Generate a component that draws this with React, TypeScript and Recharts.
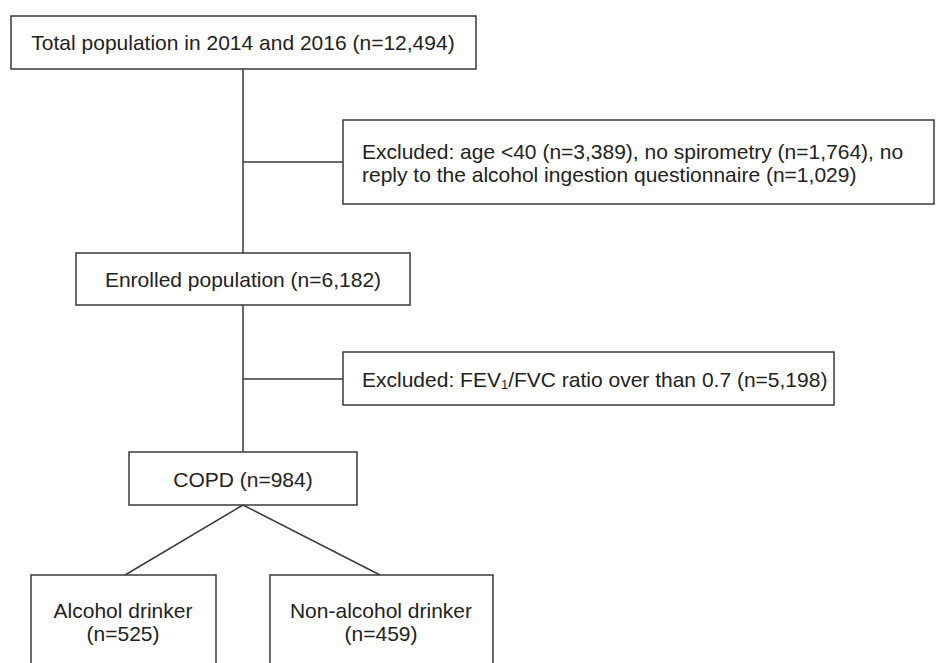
import React from "react";
import {
  ScatterChart,
  Scatter,
  XAxis,
  YAxis,
  ReferenceArea,
  ReferenceLine,
} from "recharts";

// counts shown in the flow diagram
const totalN = 12494;
const excludedAge = 3389;
const excludedSpiro = 1764;
const excludedReply = 1029;
const enrolledN = 6182;
const excludedRatio = 5198;
const copdN = 984;
const drinkerN = 525;
const nonDrinkerN = 459;

const fmt = (n: number) => n.toLocaleString("en-US");

// box layout in diagram units (same units as the axes)
const boxes = [
  { id: "total", x1: 11, x2: 476, y1: 16, y2: 69 },
  { id: "excl1", x1: 343, x2: 934, y1: 120, y2: 204 },
  { id: "enrolled", x1: 76, x2: 410, y1: 253, y2: 305 },
  { id: "excl2", x1: 343, x2: 834, y1: 352, y2: 405 },
  { id: "copd", x1: 129, x2: 357, y1: 452, y2: 505 },
  { id: "drinker", x1: 31, x2: 216, y1: 575, y2: 690 },
  { id: "nondrinker", x1: 270, x2: 493, y1: 575, y2: 690 },
];

const links = [
  [{ x: 243, y: 69 }, { x: 243, y: 253 }],
  [{ x: 243, y: 305 }, { x: 243, y: 452 }],
  [{ x: 243, y: 162 }, { x: 343, y: 162 }],
  [{ x: 243, y: 379 }, { x: 343, y: 379 }],
  [{ x: 243, y: 505 }, { x: 125, y: 575 }],
  [{ x: 243, y: 505 }, { x: 380, y: 575 }],
];

type Line = (string | { sub: string })[];

const labels: { x: number; y: number; anchor: string; lines: Line[] }[] = [
  { x: 243, y: 42, anchor: "middle", lines: [[`Total population in 2014 and 2016 (n=${fmt(totalN)})`]] },
  {
    x: 362,
    y: 162,
    anchor: "start",
    lines: [
      [`Excluded: age <40 (n=${fmt(excludedAge)}), no spirometry (n=${fmt(excludedSpiro)}), no`],
      [`reply to the alcohol ingestion questionnaire (n=${fmt(excludedReply)})`],
    ],
  },
  { x: 243, y: 279, anchor: "middle", lines: [[`Enrolled population (n=${fmt(enrolledN)})`]] },
  {
    x: 362,
    y: 379,
    anchor: "start",
    lines: [["Excluded: FEV", { sub: "1" }, `/FVC ratio over than 0.7 (n=${fmt(excludedRatio)})`]],
  },
  { x: 243, y: 479, anchor: "middle", lines: [[`COPD (n=${fmt(copdN)})`]] },
  { x: 123, y: 621, anchor: "middle", lines: [["Alcohol drinker"], [`(n=${drinkerN})`]] },
  { x: 381, y: 621, anchor: "middle", lines: [["Non-alcohol drinker"], [`(n=${nonDrinkerN})`]] },
];

const STROKE = "#3a3a3a";
const LINE_H = 23;
const SUB_SHIFT = 5;

const LabelShape = (props: any) => {
  const { cx, cy, payload } = props;
  const lines: Line[] = payload.lines;
  const top = cy - ((lines.length - 1) * LINE_H) / 2;
  return (
    <text
      x={cx}
      y={top}
      textAnchor={payload.anchor}
      dominantBaseline="central"
      fontFamily="'Liberation Sans', Arial, sans-serif"
      fontSize={21}
      fill="#222"
    >
      {lines.map((line, i) => (
        <tspan key={i} x={cx} y={top + i * LINE_H}>
          {line.map((part, j) => {
            if (typeof part !== "string") {
              return (
                <tspan key={j} fontSize={13} dy={SUB_SHIFT}>
                  {part.sub}
                </tspan>
              );
            }
            const prevSub = j > 0 && typeof line[j - 1] !== "string";
            return (
              <tspan key={j} dy={prevSub ? -SUB_SHIFT : undefined}>
                {part}
              </tspan>
            );
          })}
        </tspan>
      ))}
    </text>
  );
};

export default function App() {
  return (
    <div style={{ position: "absolute", left: 0, top: 0, background: "#fff" }}>
      <ScatterChart width={936} height={663} margin={{ top: 0, right: 0, bottom: 0, left: 0 }}>
        <XAxis type="number" dataKey="x" domain={[0, 936]} hide />
        <YAxis type="number" dataKey="y" domain={[0, 663]} reversed hide />
        {boxes.map((b) => (
          <ReferenceArea
            key={b.id}
            x1={b.x1}
            x2={b.x2}
            y1={b.y1}
            y2={b.y2}
            fill="#fff"
            fillOpacity={1}
            stroke={STROKE}
            strokeWidth={1.5}
            ifOverflow="visible"
          />
        ))}
        {links.map((seg, i) => (
          <ReferenceLine key={`l${i}`} segment={seg} stroke={STROKE} strokeWidth={1.5} ifOverflow="visible" />
        ))}
        <Scatter data={labels} shape={<LabelShape />} isAnimationActive={false} />
      </ScatterChart>
    </div>
  );
}
